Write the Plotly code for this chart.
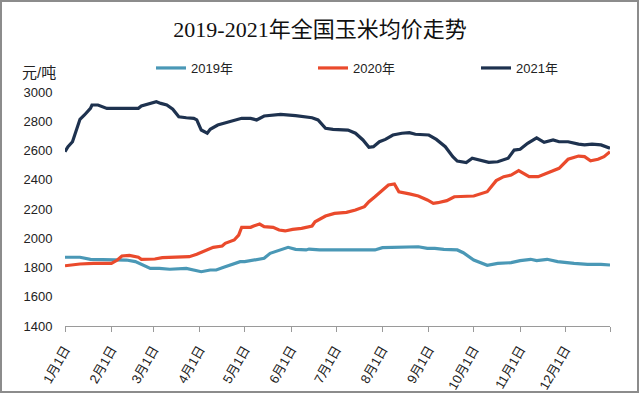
import plotly.graph_objects as go

YEAR = "2021"  # dummy year for the month-day axis

# ---- data (month-day, price in 元/吨) ----
dates_2019 = ["01-01", "01-11", "01-18", "01-31", "02-11", "02-17", "02-22", "02-27", "03-05", "03-12",
              "03-23", "03-29", "04-02", "04-08", "04-12", "04-17", "04-21", "04-28", "05-01", "05-05",
              "05-08", "05-14", "05-18", "05-24", "05-30", "06-04", "06-11", "06-13", "06-20", "07-08",
              "07-27", "08-01", "08-10", "08-14", "08-19", "08-25", "08-31", "09-05", "09-11", "09-20",
              "09-24", "10-01", "10-10", "10-17", "10-26", "11-01", "11-08", "11-12", "11-19", "11-26",
              "12-07", "12-16", "12-25", "12-31"]
vals_2019 = [1870, 1870, 1856, 1851, 1851, 1840, 1817, 1794, 1794, 1788,
             1794, 1778, 1771, 1783, 1783, 1801, 1817, 1840, 1840, 1848,
             1856, 1863, 1897, 1915, 1938, 1924, 1920, 1926, 1920, 1920,
             1920, 1936, 1938, 1936, 1942, 1942, 1931, 1931, 1924, 1920,
             1901, 1851, 1815, 1828, 1833, 1847, 1856, 1847, 1856, 1840,
             1828, 1821, 1821, 1817]

dates_2020 = ["01-01", "01-11", "01-20", "02-01", "02-05", "02-08", "02-13", "02-19", "02-21", "03-02",
              "03-07", "03-16", "03-25", "03-30", "04-06", "04-10", "04-16", "04-18", "04-24", "04-27",
              "04-29", "05-05", "05-07", "05-11", "05-14", "05-20", "05-24", "05-28", "06-02", "06-08",
              "06-15", "06-17", "06-24", "06-30", "07-08", "07-14", "07-20", "07-23", "07-27", "08-01",
              "08-05", "08-09", "08-12", "08-19", "08-25", "08-31", "09-04", "09-07", "09-13", "09-18",
              "10-01", "10-10", "10-16", "10-21", "10-26", "10-31", "11-07", "11-13", "11-19", "11-27",
              "12-03", "12-10", "12-14", "12-18", "12-23", "12-27", "12-31"]
vals_2020 = [1812, 1824, 1828, 1828, 1851, 1879, 1883, 1870, 1856, 1858,
             1867, 1870, 1874, 1890, 1920, 1938, 1947, 1965, 1988, 2022,
             2075, 2075, 2084, 2097, 2079, 2075, 2056, 2050, 2061, 2068,
             2084, 2113, 2152, 2170, 2177, 2193, 2216, 2250, 2284, 2330,
             2364, 2371, 2318, 2303, 2289, 2262, 2239, 2243, 2257, 2284,
             2289, 2318, 2394, 2421, 2432, 2462, 2421, 2421, 2448, 2478,
             2540, 2562, 2558, 2530, 2540, 2558, 2592]

dates_2021 = ["01-01", "01-03", "01-06", "01-09", "01-11", "01-14", "01-18", "01-19", "01-23", "01-29",
              "02-19", "02-21", "02-26", "03-03", "03-06", "03-10", "03-14", "03-18", "03-23", "03-28",
              "03-30", "04-02", "04-06", "04-08", "04-13", "04-17", "04-20", "04-25", "04-29", "05-05",
              "05-09", "05-14", "05-25", "06-04", "06-15", "06-19", "06-24", "06-29", "07-09", "07-14",
              "07-19", "07-23", "07-26", "07-30", "08-03", "08-08", "08-14", "08-19", "08-23", "09-01",
              "09-06", "09-12", "09-17", "09-20", "09-26", "09-30", "10-06", "10-11", "10-17", "10-24",
              "10-28", "11-01", "11-06", "11-12", "11-17", "11-23", "11-27", "12-03", "12-10", "12-14",
              "12-19", "12-25", "12-31"]
vals_2021 = [2592, 2626, 2660, 2752, 2813, 2843, 2888, 2911, 2911, 2888,
             2888, 2904, 2918, 2934, 2922, 2911, 2882, 2831, 2824, 2820,
             2809, 2740, 2718, 2745, 2774, 2786, 2790, 2809, 2820, 2820,
             2809, 2836, 2847, 2838, 2824, 2809, 2752, 2745, 2740, 2718,
             2672, 2622, 2626, 2660, 2676, 2706, 2718, 2722, 2711, 2706,
             2676, 2626, 2558, 2528, 2517, 2547, 2530, 2519, 2523, 2547,
             2603, 2608, 2649, 2687, 2656, 2672, 2660, 2660, 2644, 2638,
             2644, 2638, 2615]

tick_dates = ["01-01", "02-01", "03-01", "04-01", "05-01", "06-01", "07-01", "08-01",
              "09-01", "10-01", "11-01", "12-01", "12-31"]
tick_labels = ["1月1日", "2月1日", "3月1日", "4月1日", "5月1日", "6月1日", "7月1日", "8月1日",
               "9月1日", "10月1日", "11月1日", "12月1日", ""]

series_names = ["2019年", "2020年", "2021年"]
series_colors = ["#4a98b6", "#ea4a2c", "#1e324f"]


def to_x(md_list):
    return [f"{YEAR}-{d}" for d in md_list]


L, R, T, B = 65, 30, 92, 68
W, H = 640, 394
PW, PH = W - L - R, H - T - B


def px_x(px):
    return (px - L) / PW


def px_y(py):
    return (H - B - py) / PH


legend_ids = ["legend", "legend2", "legend3"]
legend_px = [151, 313, 476]

fig = go.Figure()
for name, d, v, c, lid in zip(series_names,
                              [dates_2019, dates_2020, dates_2021],
                              [vals_2019, vals_2020, vals_2021],
                              series_colors, legend_ids):
    fig.add_trace(go.Scatter(x=to_x(d), y=v, mode="lines", name=name, legend=lid,
                             line=dict(color=c, width=3.2)))

CJK = "Liberation Sans, Noto Sans CJK SC, sans-serif"
legend_font = dict(family="Liberation Sans Narrow, Liberation Sans, Noto Sans CJK SC", size=13, color="#222")

legend_layout = {}
for lid, lx in zip(legend_ids, legend_px):
    legend_layout[lid] = dict(orientation="h", x=px_x(lx), xanchor="left", y=px_y(68), yanchor="middle",
                              font=legend_font, bgcolor="rgba(0,0,0,0)")

fig.update_layout(
    width=W, height=H,
    margin=dict(l=L, r=R, t=T, b=B, autoexpand=False),
    paper_bgcolor="white", plot_bgcolor="white",
    title=dict(text="2019-2021年全国玉米均价走势", x=0.5, xref="container", xanchor="center",
               y=1 - 29 / H, yref="container", yanchor="middle",
               font=dict(family="Liberation Serif, Noto Sans CJK SC, serif", size=22, color="#111")),
    showlegend=True,
    xaxis=dict(type="date", range=[f"{YEAR}-01-01", f"{YEAR}-12-31"],
               tickvals=to_x(tick_dates), ticktext=tick_labels, tickangle=-60,
               showline=True, linecolor="#9a9a9a", linewidth=1,
               ticks="outside", ticklen=5, tickcolor="#9a9a9a", ticklabelstandoff=5,
               showgrid=False, zeroline=False, automargin=False,
               tickfont=dict(family=CJK, size=13, color="#222")),
    yaxis=dict(range=[1400, 3000], dtick=200, tick0=1400,
               showgrid=False, showline=False, zeroline=False, automargin=False,
               ticks="outside", ticklen=9, tickcolor="rgba(0,0,0,0)",
               tickfont=dict(family="Liberation Sans, sans-serif", size=13, color="#222")),
    annotations=[dict(text="元/吨", xref="paper", yref="paper", x=px_x(20), y=px_y(72),
                      xanchor="left", yanchor="middle", showarrow=False,
                      font=dict(family=CJK, size=15, color="#222"))],
    shapes=[dict(type="rect", xref="paper", yref="paper",
                 x0=px_x(1), x1=px_x(638), y0=px_y(392), y1=px_y(1),
                 line=dict(color="#8c8c8c", width=2), fillcolor="rgba(0,0,0,0)", layer="below")],
    **legend_layout,
)

fig.write_html("out.html", config={"displayModeBar": False},
               post_script="document.body.style.margin='0';")
